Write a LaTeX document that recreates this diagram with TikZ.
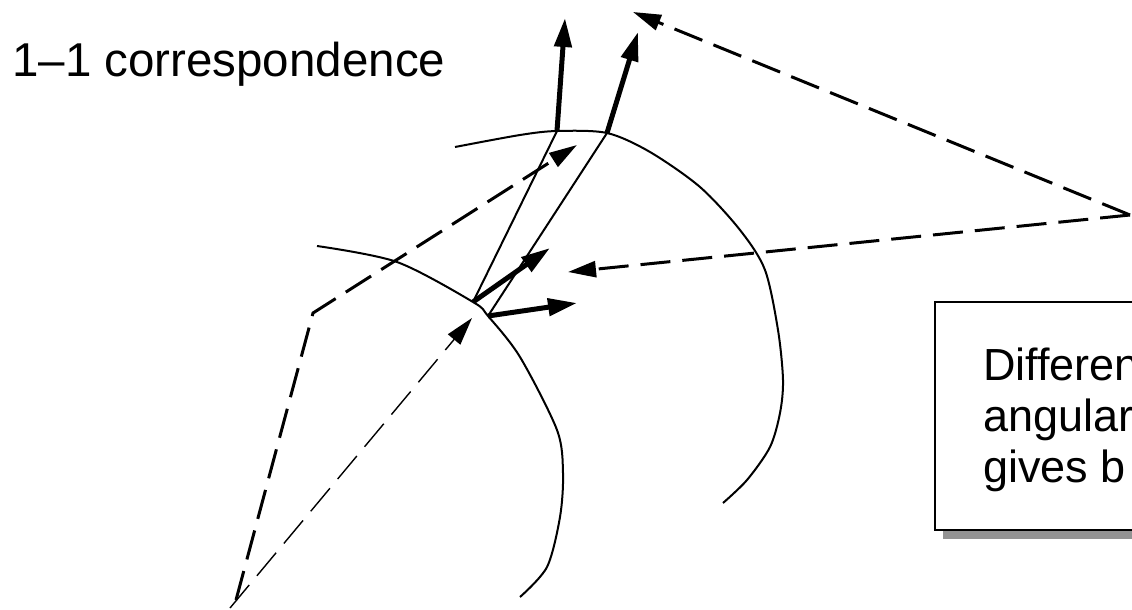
\documentclass[tikz,border=0pt]{standalone}
\usepackage{fontspec}
\setmainfont{Liberation Sans}
\usetikzlibrary{arrows.meta}
\begin{document}
\begin{tikzpicture}[x=1pt,y=-1pt,
  curve/.style={line width=2pt},
  chord/.style={line width=2pt},
  thickarrow/.style={line width=5pt,-{Triangle[length=29pt,width=17pt]}},
  dasharrow/.style={line width=3pt,dash pattern=on 30pt off 12pt,-{Triangle[length=28pt,width=16pt]}},
  thindasharrow/.style={line width=1.4pt,dash pattern=on 30pt off 12pt,-{Triangle[length=28pt,width=16pt]}},
  labeltext/.style={inner sep=0pt,anchor=base west,font=\fontsize{47.5}{57}\selectfont},
  boxtext/.style={inner sep=0pt,anchor=base west,font=\fontsize{45}{51}\selectfont},
]
\useasboundingbox (0,0) rectangle (1132,610);

% points
\coordinate (A) at (473,302);
\coordinate (B) at (488,316);
\coordinate (C) at (557,131);
\coordinate (D) at (607,133);
\coordinate (Ct) at (565,18);
\coordinate (Dt) at (638,32);
\coordinate (At) at (550,248);
\coordinate (Bt) at (577,303);
\coordinate (E) at (1130,215);
\coordinate (E1) at (568,272);
\coordinate (E2) at (633,12);
\coordinate (G1) at (236,600);
\coordinate (G2) at (230,608);
\coordinate (H) at (313,313);
\coordinate (Ht) at (577,145);
\coordinate (Gt) at (472,318);

% box with shadow
\fill[gray!85] (943,310) rectangle (1200,539);
\draw[line width=2pt,fill=white] (935,302) rectangle (1200,530);
\node[boxtext] (t1) at (983,380) {Differen};
\node[boxtext] (t2) at (983,431) {angular};
\node[boxtext] (t3) at (983,482) {gives b};

% label
\node[labeltext] (lab) at (12,77) {1--1 correspondence};

% surfaces
\draw[curve] plot[smooth] coordinates {(317,246) (397,262) (473,302) (488,316) (520,357) (557,430) (563,473) (560,517) (547,567) (520,597)};
\draw[curve] plot[smooth] coordinates {(455,147) (520,135) (557,131) (607,133) (650,152) (700,187) (740,230) (765,270) (778,330) (783,380) (780,413) (770,447) (747,480) (723,503)};

% chords
\draw[chord] (A) -- (C);
\draw[chord] (B) -- (D);

% thick arrows
\draw[thickarrow] (C) -- (Ct);
\draw[thickarrow] (D) -- (Dt);
\draw[thickarrow] (A) -- (At);
\draw[thickarrow] (B) -- (Bt);

% dashed arrows
\draw[dasharrow] (E) -- (E1);
\draw[dasharrow] (E) -- (E2);
\draw[dasharrow] (G1) -- (H) -- (Ht);
\draw[thindasharrow] (G2) -- (Gt);
\end{tikzpicture}
\end{document}
